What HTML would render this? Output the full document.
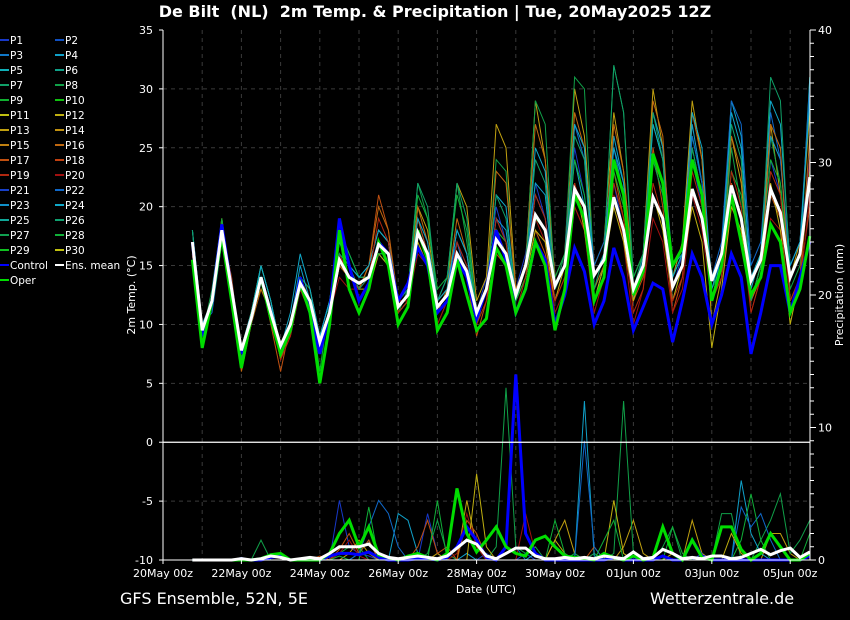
<!DOCTYPE html>
<html><head><meta charset="utf-8"><style>
html,body{margin:0;padding:0;background:#000;}
svg{display:block;font-family:"DejaVu Sans","Liberation Sans",sans-serif;}
</style></head><body>
<svg id="chart" width="850" height="620" viewBox="0 0 850 620" xmlns="http://www.w3.org/2000/svg">
<rect width="850" height="620" fill="#000"/>
<text x="435" y="17" fill="#fff" font-size="16" font-weight="bold" text-anchor="middle" xml:space="preserve">De Bilt  (NL)  2m Temp. &amp; Precipitation | Tue, 20May2025 12Z</text>
<g id="grid"></g>
<g id="prec"></g>
<g id="temp"></g>
<g id="axes"></g>
<g id="legend"></g>
<text x="120" y="604" fill="#fff" font-size="16">GFS Ensemble, 52N, 5E</text>
<text x="650" y="604" fill="#fff" font-size="16">Wetterzentrale.de</text>
</svg>
<script>
// ---- data (6-hourly, first value at +18h from 20May 00z) ----
const startHour = 18, stepHour = 6;
const xTickLabels = ["20May 00z","22May 00z","24May 00z","26May 00z","28May 00z","30May 00z","01Jun 00z","03Jun 00z","05Jun 00z"];
const tempTicks = [35,30,25,20,15,10,5,0,-5,-10];
const precTicks = [40,30,20,10,0];
const legendNames = ["P1","P2","P3","P4","P5","P6","P7","P8","P9","P10","P11","P12","P13","P14","P15","P16","P17","P18","P19","P20","P21","P22","P23","P24","P25","P26","P27","P28","P29","P30"];
const legendColors = ["#1838c8","#1050c0","#1078c8","#10a0c8","#10b0b8","#10a088","#10a068","#10a048","#10b030","#10c010","#c0c010","#c0b010","#c0a010","#c09010","#c08010","#c06810","#c05010","#c04010","#b02810","#a01010","#1840c8","#1068c8","#1090c8","#10a8c8","#10a898","#10a070","#10a050","#10b038","#10c020","#c0c010"];

const meanTemp = [17,9.5,12,18,13,7.8,10.5,14,11,8.2,10,13.5,12,8.5,11,15.5,
14,13.5,14,16.8,16,11.5,12.5,17.8,16,11.5,12.5,16,14.5,11,13,17.2,
16,12.5,15,19.3,18,13.3,15,21.5,20,14.2,15.5,20.8,18,13,15,20.8,
19,13.2,15,21.5,19,13.7,16,21.8,19,13.7,15.5,21.5,19.5,14,16,22.5];
const controlTemp = [17,9,12,18.5,13,7.5,10.5,14,11,8,9.5,14,11,7.5,11,19,
15,12,13.5,17,16,12,13.5,16.5,15,11,12,15.5,14,10.5,13,18,
15.5,11,13,17,15.5,10,12.5,16.5,14.5,10,12,16.5,14,9.5,11.5,13.5,
13,8.5,12,16,14,10,12.5,16,14,7.5,11,15,15,11,14,17];
const operTemp = [15.5,8,12,17.5,12,6.3,10.5,14,10.5,7.5,9.5,13.5,11,5,10,18,
13,11,13,17,15,10,11.5,18,15.5,9.5,11,15.5,12.5,9.5,10.5,16.5,
15,11,13,17,15,9.5,13,21,19,12,14,24,21,12.5,14.5,24.5,
22,15,16.5,24,21,12,15,21,17,12.5,14,18.5,17,11,13,17.5];
const m1 = [17,9,12,18,13,8,10,14,11,8,10,13,12,9,12,16,14,13,14,17,16,12,13,19,16,12,13,17,15,11,14,20,17,13,16,22,19,13,16,25,21,14,16,22,18,13,15,21,19,13,16,24,20,14,16,22,19,14,16,24,21,15,17,24];
const m2 = [16,9,12,19,13,7,11,15,12,8,10,14,13,9,11,15,14,13,15,18,17,12,13,20,18,12,13,22,20,12,14,27,25,13,15,29,24,14,16,30,26,15,17,28,23,14,16,30,25,14,17,29,24,10,14,26,22,13,16,27,21,14,17,28];
const m3 = [18,9,13,19,13,7,11,14,11,8,10,14,13,8,11,17,15,14,14,16,16,11,13,22,19,12,14,22,17,11,13,24,23,12,15,29,27,13,16,31,30,14,16,32,28,14,16,27,24,12,15,26,22,13,15,25,20,12,15,26,22,13,15,31];
const m4 = [18,10,12,17,12,8,10,15,12,7,10,15,12,9,12,18,16,14,15,18,17,11,12,18,16,11,13,18,16,10,13,19,18,12,15,22,21,13,15,24,20,12,15,26,22,12,16,28,25,15,16,27,22,12,16,29,26,13,16,26,24,14,16,31];
const m5 = [16,9,12,18,14,7,10,14,10,6,10,13,11,8,11,15,14,13,15,21,18,12,12,19,16,10,12,17,14,9,12,16,15,12,14,18,16,12,14,20,18,12,14,23,19,12,14,25,20,11,14,24,21,12,14,22,19,12,14,21,19,11,14,20];
const m6 = [17,10,12,19,13,8,11,14,11,8,9,13,12,8,11,14,13,13,14,17,16,12,12,16,15,10,12,16,14,10,13,18,17,12,14,19,17,11,13,20,18,11,14,21,17,10,13,19,17,11,13,21,18,12,14,20,18,11,14,19,18,11,13,21];
const m7 = [17,10,11,17,12,8,11,14,11,8,10,14,12,9,12,16,15,14,14,16,15,11,12,18,16,12,14,17,14,10,13,19,17,13,15,21,19,14,16,27,24,15,17,25,21,14,16,24,21,14,16,26,22,14,17,29,27,15,17,28,24,15,17,30];
const m8 = [16,9,12,17,13,8,11,13,11,8,10,13,12,8,11,15,14,13,13,16,15,11,12,17,15,11,12,16,14,11,13,18,16,12,14,18,17,12,15,22,18,12,15,20,17,12,15,21,18,12,15,20,17,8,13,20,18,12,15,22,18,10,14,23];
const m9 = [17,9,12,19,13,7,11,15,12,8,10,14,12,6,12,18,16,14,14,16,16,12,13,21,19,13,14,21,18,11,13,18,17,12,14,19,18,14,16,24,21,13,15,23,20,14,16,24,21,14,16,25,21,14,16,23,21,14,16,24,22,14,16,23];
const m10 = [17,9,12,17,13,6,10,13,11,7,10,14,12,8,11,15,14,13,15,20,18,11,12,20,17,11,13,19,16,11,13,23,22,13,15,27,24,13,15,28,25,13,15,27,23,13,15,29,26,13,15,28,24,12,15,26,23,12,14,27,25,12,14,26];
const m11 = [18,10,12,18,12,8,11,15,12,8,11,16,13,9,12,17,15,14,15,18,17,12,13,19,17,12,13,18,16,11,13,21,20,12,15,25,23,13,15,27,25,14,16,25,22,13,15,27,24,14,16,28,25,13,16,28,25,14,16,29,27,15,17,29];
const m12 = [16,9,12,18,13,8,10,14,11,7,9,13,11,8,11,16,14,13,14,19,17,11,12,18,16,11,12,17,15,10,12,19,17,11,14,21,19,12,14,22,19,12,14,22,19,11,13,22,19,12,14,23,20,12,14,23,20,11,14,23,21,12,14,24];
const m13 = [18,9,12,18,13,7,11,14,11,8,10,13,12,8,11,16,15,13,14,17,16,12,13,22,20,12,14,22,19,11,13,21,19,12,15,24,22,13,15,26,24,13,16,32,28,13,16,28,24,13,15,25,21,12,15,27,24,12,15,31,29,14,16,22];
const memberTemps = [m1,m2,m3,m4,m5,m6,m7,m8,m9,m10,m11,m12,m13];
const memberColorIdx = [0,12,7,3,16,19,21,11,27,15,23,18,6];

const meanPrec = [0,0,0,0,0,0.1,0,0.1,0.3,0.2,0,0.1,0.2,0.1,0.5,1,
1,1,1.2,0.5,0.2,0.1,0.2,0.3,0.2,0.1,0.3,0.9,1.5,1.2,0.3,0.1,
0.5,0.9,0.9,0.3,0.1,0.1,0.2,0.1,0.2,0.1,0.3,0.2,0.1,0.6,0.1,0.2,
0.8,0.5,0.1,0.2,0.1,0.3,0.3,0.1,0.2,0.5,0.8,0.4,0.7,0.9,0.2,0.6];
const controlPrec = [0,0,0,0,0,0,0,0,0.2,0.3,0,0,0,0,0.3,0.5,
0.5,0.4,0.6,0.2,0,0,0,0.1,0.1,0,0.2,1,2.5,1.5,0.2,0,
1,14,2,0.5,0,0,0,0,0,0,0,0.2,0,0,0,0,
0.3,0,0,1.5,0.3,0,0,0,0,0,0,0,0,0,0,0.3];
const operPrec = [0,0,0,0,0,0,0,0.1,0.4,0.5,0,0,0,0,0.5,2,
3,1,2.5,0.4,0.2,0,0.3,0.5,0.2,0,0.5,5.4,2,0.6,1.5,2.5,
1,0.5,0.3,1.5,1.8,1,0.3,0.2,0.1,0,0.5,0.2,0,0.3,0,0.2,
2.5,0.5,0,1.5,0.2,0,2.5,2.5,0.8,0,0.5,2,1,0,0,0.5];
const p1 = [0,0,0,0,0,0.2,0,0,0,0,0,0,0,0,0,4.5,1,0.5,0.3,0,0,0,0,0,3.5,0.5,0,0,0,0,0.5,0,0,0,0.5,0,0,0,0,0.3,0,0,0,0,0,0,0,0,0,0,0,0,0.5,0,0,0,0,0,0,0,0,0,0,0];
const p2 = [0,0,0,0,0,0,0,0,0,0,0,0,0,0,0,0,0.5,1.5,0.5,0,0,0,0,0,0,0.5,0,0,4.5,1,0,0,0,0,0,0,0,1.5,3,0.5,0,0,0,0,1,3,0.5,0,0,0,0,3,0.5,0,0,0,0,0,0,2,2,0.5,0,0];
const p3 = [0,0,0,0,0,0,0,1.5,0,0,0,0,0,0,0,0.5,1,1,0,0,0,0,0,0,0.5,3,0.5,0,0,0,0,1,13,1,0.5,1,0,0,0,0.5,0,0.5,0,0.5,12,0.5,0,0,1,2.5,0,0,0,0,3.5,3.5,0,0,1.5,3,5,0.5,1.5,3];
const p4 = [0,0,0,0,0,0,0,0,0.3,0.5,0,0,0,0,0,0,0,0.5,1.5,0,0,3.5,3,0.5,0,0,0,0,0.5,0,0,0,0,0,0,0.5,0,0,0,0,12,0.3,0,0,0,0,0,0,0,0,0,0,0,0,0,0,6,2,0.5,0,0,0,0,0];
const p5 = [0,0,0,0,0,0,0,0,0,0,0,0,0,0.3,0,0.8,2,0.5,1.5,0,0,0,0,1,3,0.5,1,0,3,2,0.2,0,0,0,0,0,0,0,0,0,0,1,0,0,0,0,0,0,0,0,0,0,0,0,0,0,0,0,0,0,0,0,0,0];
const p6 = [0,0,0,0,0,0,0,0,0,0,0,0,0,0,0,0.5,1.5,0.3,0,0,0,0,0,0,0,0,0,0.5,3.5,1,0,0,0,0,3.5,0.5,0,0,0,0,0,0,0,0,0,0,0,0,0,0,0,0,0,0,0,0,0,0,0,0,0,0,0,0];
const p7 = [0,0,0,0,0,0,0,0,0,0,0,0,0,0,0,0,0,0.5,2.5,4.5,3.5,1,0,0,0,0,0,0,0,0,0,0,0.5,1,0,0,0,0,0,0,9,1,0,0,0,0,0,0,0,0,0,0,0,0,0,0,4,2.5,3.5,1.5,0,0,0,0.5];
const p8 = [0,0,0,0,0,0,0,0,0,0,0,0,0,0,0,0,0,0,0,0,0,0,0,0,0,0,0,0,0,6.5,1,0,0,0,0,0,0,1.5,0.5,0,0,0,0,4.5,0.5,0,0,0,0,0.5,0,0,0,0,0,2,0.5,0,0,0,0,0,0,0];
const p9 = [0,0,0,0,0,0,0,0,0,0,0,0,0,0,0,0.3,0,0,4,0,0,0,0,0,0,4.5,0,0,0,0,0,0,0,0,0,0,0,3,0.5,0,0,0,1.5,3,0,0,0,0,0,2.5,0.5,0,0,0,0,0,1.5,5,1.5,0,0,0,0,2];
const memberPrecs = [p1,p2,p3,p4,p5,p6,p7,p8,p9];

// ---- scales ----
const X0 = 163, PXDAY = 39.2, YTOP = 30, YBOT = 560, XR = 810;
function xOfHour(h){ return X0 + h*PXDAY/24; }
function xOfIdx(i){ return xOfHour(startHour + i*stepHour); }
function yTemp(t){ return YBOT - (t + 10) * (YBOT - YTOP) / 45; }
function yPrec(p){ return YBOT - p * (YBOT - YTOP) / 40; }

const NS = "http://www.w3.org/2000/svg";
function mk(tag, attrs, parent){ const e = document.createElementNS(NS, tag); for (const k in attrs) e.setAttribute(k, attrs[k]); parent.appendChild(e); return e; }
const grid = document.getElementById('grid'), axes = document.getElementById('axes');
const temp = document.getElementById('temp'), prec = document.getElementById('prec'), legend = document.getElementById('legend');

for (let d = 1; d <= 16; d++) {
  const x = xOfHour(d*24);
  const g = mk('line', {x1:x, x2:x, y1:YTOP, y2:YBOT, stroke:'#3a3a3a', 'stroke-dasharray':'4,4', 'stroke-width':1}, grid);
  
  
}
tempTicks.forEach(t => {
  const y = yTemp(t);
  if (t !== 0 && t !== -10 && t !== 35) {
    const g = mk('line', {x1:X0, x2:XR, y1:y, y2:y, stroke:'#3a3a3a', 'stroke-dasharray':'4,4', 'stroke-width':1}, grid);
    
    
  }
  const tk = mk('text', {x:153, y:y+4, fill:'#fff', 'font-size':11, 'text-anchor':'end'}, axes);
  tk.textContent = t;
  
  
  mk('line', {x1:X0-4, x2:X0, y1:y, y2:y, stroke:'#fff'}, axes);
});
const zl = mk('line', {x1:X0, x2:XR, y1:yTemp(0), y2:yTemp(0), stroke:'#fff', 'stroke-width':1.2}, axes);


for (let p = 0; p <= 40; p++) {
  const y = yPrec(p);
  mk('line', {x1:XR, x2:XR + (p % 10 === 0 ? 6 : 4), y1:y, y2:y, stroke:'#fff'}, axes);
}
precTicks.forEach(p => {
  const tk = mk('text', {x:818, y:yPrec(p)+4, fill:'#fff', 'font-size':11}, axes);
  tk.textContent = p;
  
  
});
xTickLabels.forEach((lab, i) => {
  const x = xOfHour(i*48);
  mk('line', {x1:x, x2:x, y1:YBOT, y2:YBOT+4, stroke:'#fff'}, axes);
  const tk = mk('text', {x:x, y:577, fill:'#fff', 'font-size':11, 'text-anchor':'middle'}, axes);
  tk.textContent = lab;
  
  
});
mk('line', {x1:X0, x2:X0, y1:YTOP, y2:YBOT, stroke:'#fff'}, axes);
mk('line', {x1:XR, x2:XR, y1:YTOP, y2:YBOT, stroke:'#fff'}, axes);
mk('line', {x1:X0, x2:XR, y1:YBOT, y2:YBOT, stroke:'#fff'}, axes);
const xt = mk('text', {x:486, y:593, fill:'#fff', 'font-size':11, 'text-anchor':'middle'}, axes);
xt.textContent = 'Date (UTC)';


const yt = mk('text', {x:0, y:0, fill:'#fff', 'font-size':11, 'text-anchor':'middle', transform:'translate(135,295) rotate(-90)'}, axes);
yt.textContent = '2m Temp. (°C)';


const yt2 = mk('text', {x:0, y:0, fill:'#fff', 'font-size':11, 'text-anchor':'middle', transform:'translate(843,295) rotate(-90)'}, axes);
yt2.textContent = 'Precipitation (mm)';



function pts(arr, yf){ return arr.map((v,i) => xOfIdx(i).toFixed(1) + ',' + yf(v).toFixed(1)).join(' '); }
memberTemps.forEach((arr, k) => {
  const l = mk('polyline', {points:pts(arr, yTemp), fill:'none', stroke:legendColors[memberColorIdx[k]], 'stroke-width':1}, temp);
  
  
});
memberPrecs.forEach((arr, k) => {
  const l = mk('polyline', {points:pts(arr, yPrec), fill:'none', stroke:legendColors[memberColorIdx[k]], 'stroke-width':1}, prec);
  
  
});
const cp = mk('polyline', {points:pts(controlPrec, yPrec), fill:'none', stroke:'#0000ff', 'stroke-width':3}, prec);


const op = mk('polyline', {points:pts(operPrec, yPrec), fill:'none', stroke:'#00dd00', 'stroke-width':3}, prec);


const mp = mk('polyline', {points:pts(meanPrec, yPrec), fill:'none', stroke:'#ffffff', 'stroke-width':3}, prec);


const ct = mk('polyline', {points:pts(controlTemp, yTemp), fill:'none', stroke:'#0000ff', 'stroke-width':3}, temp);


const ot = mk('polyline', {points:pts(operTemp, yTemp), fill:'none', stroke:'#00dd00', 'stroke-width':3}, temp);


const mt = mk('polyline', {points:pts(meanTemp, yTemp), fill:'none', stroke:'#ffffff', 'stroke-width':3}, temp);



const legItems = legendNames.map((n,i) => [n, legendColors[i]]).concat([["Control","#0000ff"],["Ens. mean","#ffffff"],["Oper","#00dd00"]]);
legItems.forEach((it, i) => {
  const col = i % 2, row = Math.floor(i / 2);
  const x = col === 0 ? 0 : 55, y = 40 + row*15;
  const g = mk('g', {}, legend);
  
  
  mk('line', {x1:x, x2:x+9, y1:y, y2:y, stroke:it[1], 'stroke-width':2}, g);
  const t = mk('text', {x:x+10, y:y+4, fill:'#fff', 'font-size':10.5}, g);
  t.textContent = it[0];
});
</script>
</body></html>
